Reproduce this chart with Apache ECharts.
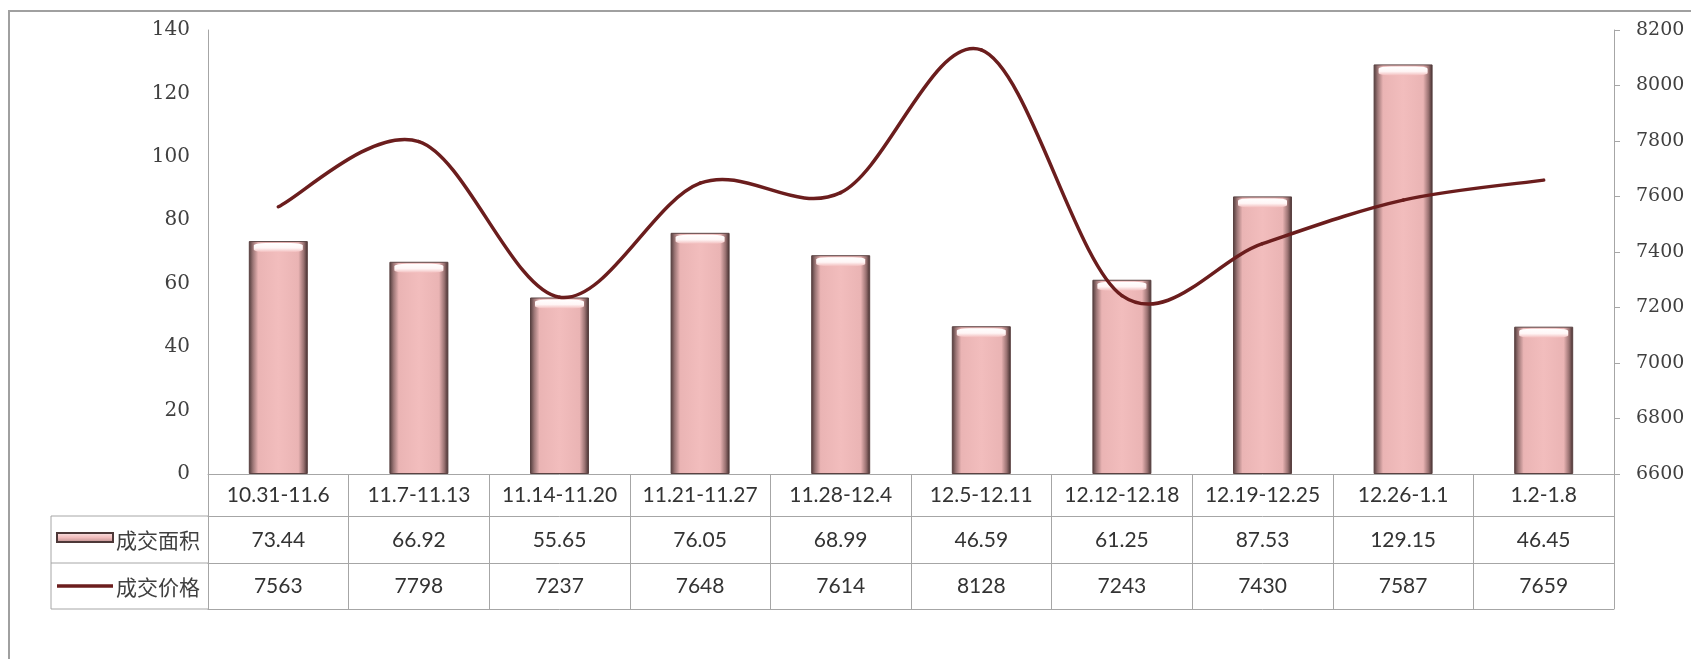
<!DOCTYPE html>
<html>
<head>
<meta charset="utf-8">
<title>成交面积与成交价格</title>
<script src="https://cdn.jsdelivr.net/npm/echarts@6/dist/echarts.min.js"></script>
<style>
  html, body { margin: 0; padding: 0; background: #fff; }
  #myChart { width: 1691px; height: 659px; }
</style>
</head>
<body>
<div id="myChart"></div>
<script>
// 周期
var categories = ["10.31-11.6", "11.7-11.13", "11.14-11.20", "11.21-11.27", "11.28-12.4",
  "12.5-12.11", "12.12-12.18", "12.19-12.25", "12.26-1.1", "1.2-1.8"];
// 成交面积
var areaValues = [73.44, 66.92, 55.65, 76.05, 68.99, 46.59, 61.25, 87.53, 129.15, 46.45];
// 成交价格
var priceValues = [7563, 7798, 7237, 7648, 7614, 8128, 7243, 7430, 7587, 7659];
var areaName = "成交面积";
var priceName = "成交价格";

var gridColor = "#a6a6a6";
var textColor = "#333";
var tableFont = "Lato";
var cjkFont = "Noto Sans CJK SC";
var lineColor = "#6b1d1d";

// 表格行：上边界 474, 516, 563, 609
function tableAxis(data, offset, tickLen, margin, showLabel) {
  return {
    type: "category",
    data: data,
    position: "bottom",
    offset: offset,
    axisLine: { show: true, lineStyle: { color: gridColor, width: 1 } },
    axisTick: {
      show: tickLen > 0,
      interval: 0,
      length: tickLen,
      lineStyle: { color: gridColor, width: 1 }
    },
    axisLabel: {
      show: showLabel,
      interval: 0,
      margin: margin,
      verticalAlign: "middle",
      color: textColor,
      fontFamily: tableFont,
      fontSize: 21
    },
    splitLine: { show: false }
  };
}

// 平滑曲线（Catmull-Rom 分段贝塞尔），按坐标轴换算像素
function renderSmooth(params, api) {
  var i = params.dataIndex;
  var n = priceValues.length;
  if (i >= n - 1) return null;
  var pt = function (k) {
    k = Math.max(0, Math.min(n - 1, k));
    return api.coord([k, priceValues[k]]);
  };
  var p0 = pt(i - 1), p1 = pt(i), p2 = pt(i + 1), p3 = pt(i + 2);
  return {
    type: "bezierCurve",
    shape: {
      x1: p1[0], y1: p1[1],
      x2: p2[0], y2: p2[1],
      cpx1: p1[0] + (p2[0] - p0[0]) / 6,
      cpy1: p1[1] + (p2[1] - p0[1]) / 6,
      cpx2: p2[0] - (p3[0] - p1[0]) / 6,
      cpy2: p2[1] - (p3[1] - p1[1]) / 6
    },
    style: { stroke: lineColor, lineWidth: 3.5, fill: "none", lineCap: "round" }
  };
}

var barGradient = new echarts.graphic.LinearGradient(0, 0, 1, 0, [
  { offset: 0, color: "#4d3838" },
  { offset: 0.07, color: "#9c7676" },
  { offset: 0.16, color: "#eab4b4" },
  { offset: 0.5, color: "#f2bdbd" },
  { offset: 0.84, color: "#eab4b4" },
  { offset: 0.93, color: "#9a7272" },
  { offset: 1, color: "#3e2a2a" }
]);

var axisNum = function (v) { return String(v); };

var myChart = echarts.init(document.getElementById("myChart"));
myChart.setOption({
  animation: false,
  grid: { left: 208, right: 77, top: 30, bottom: 185, containLabel: false },
  xAxis: [
    tableAxis(categories, 0, 42, 21, true),
    tableAxis(areaValues.map(String), 42, 47, 24, true),
    tableAxis(priceValues.map(String), 89, 46, 23, true),
    tableAxis(categories, 135, 0, 0, false)
  ],
  yAxis: [
    {
      type: "value",
      min: 0,
      max: 140,
      interval: 20,
      position: "left",
      axisLine: { show: true, lineStyle: { color: gridColor } },
      axisTick: { show: false },
      axisLabel: { margin: 18, color: "#404040", fontFamily: "DejaVu Serif", fontSize: 20, formatter: axisNum },
      splitLine: { show: false }
    },
    {
      type: "value",
      min: 6600,
      max: 8200,
      interval: 200,
      position: "right",
      axisLine: { show: true, lineStyle: { color: gridColor } },
      axisTick: { show: true, length: 6, lineStyle: { color: gridColor } },
      axisLabel: { margin: 22, color: "#404040", fontFamily: "DejaVu Serif", fontSize: 19, formatter: axisNum },
      splitLine: { show: false }
    }
  ],
  series: [
    {
      name: areaName,
      type: "bar",
      xAxisIndex: 0,
      yAxisIndex: 0,
      barWidth: 59,
      data: areaValues,
      itemStyle: { color: barGradient, borderColor: "#5a4242", borderWidth: 1 }
    },
    {
      // 柱顶高光
      name: "highlight",
      type: "pictorialBar",
      xAxisIndex: 0,
      yAxisIndex: 0,
      data: areaValues,
      symbol: "roundRect",
      symbolSize: [49, 9],
      symbolPosition: "end",
      symbolOffset: [0, 2],
      z: 3,
      itemStyle: {
        color: new echarts.graphic.LinearGradient(0, 0, 0, 1, [
          { offset: 0, color: "#ffffff" },
          { offset: 0.55, color: "#fff6f6" },
          { offset: 1, color: "#f2bdbd" }
        ])
      }
    },
    {
      name: priceName,
      type: "custom",
      xAxisIndex: 0,
      yAxisIndex: 1,
      data: priceValues.map(function (v, i) { return [i, v]; }),
      encode: { x: 0, y: 1 },
      renderItem: renderSmooth,
      z: 5
    }
  ],
  graphic: [
    // 外框
    { type: "rect", shape: { x: 9, y: 11, width: 1720, height: 700 }, style: { fill: "none", stroke: "#a0a0a0", lineWidth: 2 }, silent: true },
    // 图例列
    { type: "line", shape: { x1: 51, y1: 516, x2: 208, y2: 516 }, style: { stroke: gridColor, lineWidth: 1 } },
    { type: "line", shape: { x1: 51, y1: 563, x2: 208, y2: 563 }, style: { stroke: gridColor, lineWidth: 1 } },
    { type: "line", shape: { x1: 51, y1: 609, x2: 208, y2: 609 }, style: { stroke: gridColor, lineWidth: 1 } },
    { type: "line", shape: { x1: 51, y1: 516, x2: 51, y2: 609 }, style: { stroke: gridColor, lineWidth: 1 } },
    {
      type: "rect",
      shape: { x: 57, y: 533, width: 56, height: 9 },
      style: {
        fill: new echarts.graphic.LinearGradient(0, 0, 0, 1, [
          { offset: 0, color: "#fbeaea" },
          { offset: 0.5, color: "#f2bdbd" },
          { offset: 1, color: "#b58888" }
        ]),
        stroke: "#4d3838",
        lineWidth: 2
      }
    },
    {
      type: "text",
      style: { x: 116, y: 540, text: areaName, fill: "#404040", font: "21px '" + cjkFont + "'", verticalAlign: "middle" }
    },
    { type: "line", shape: { x1: 57, y1: 586, x2: 113, y2: 586 }, style: { stroke: lineColor, lineWidth: 3.5 } },
    {
      type: "text",
      style: { x: 116, y: 587, text: priceName, fill: "#404040", font: "21px '" + cjkFont + "'", verticalAlign: "middle" }
    }
  ]
});
</script>
</body>
</html>
